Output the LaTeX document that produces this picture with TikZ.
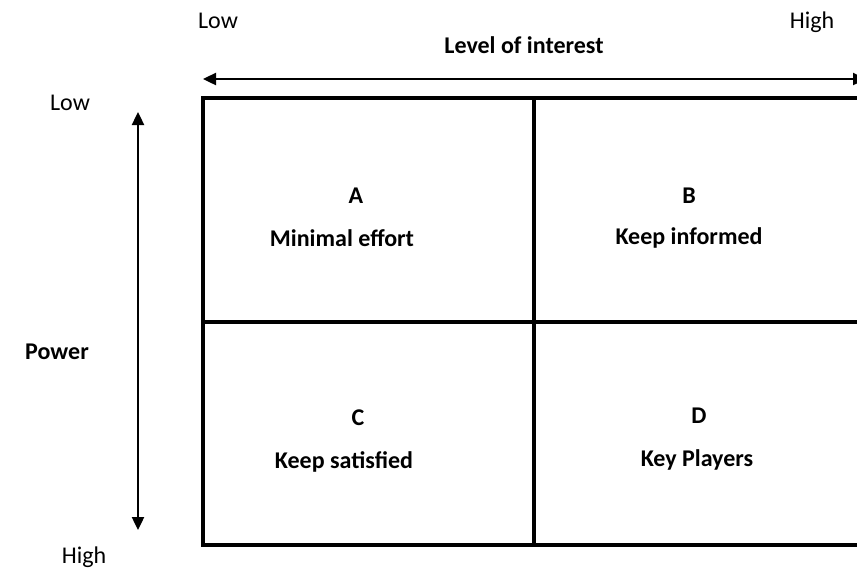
\documentclass[tikz,border=0pt]{standalone}
\usepackage{fontspec}
\setmainfont{Carlito}
\usetikzlibrary{arrows.meta}
\begin{document}
\begin{tikzpicture}[x=1pt,y=-1pt,
  grid/.style={line width=3.8pt},
  axis/.style={line width=2.4pt,{Triangle[length=13pt,width=12pt]}-{Triangle[length=13pt,width=12pt]}},
  lbl/.style={font=\fontsize{24}{28}\selectfont},
  blbl/.style={font=\fontsize{24}{28}\selectfont\bfseries}]
\useasboundingbox (0,0) rectangle (857,574);
\coordinate (tl) at (203,98);
\coordinate (br) at (880,545);
\draw[grid] (tl) rectangle (br);
\coordinate (vt) at (534,98);
\coordinate (vb) at (534,545);
\coordinate (hl) at (203,322);
\coordinate (hr) at (880,322);
\draw[grid] (vt) -- (vb);
\draw[grid] (hl) -- (hr);
\coordinate (ha) at (203,79);
\coordinate (hb) at (866,79);
\draw[axis] (ha) -- (hb);
\coordinate (va) at (138,112);
\coordinate (vb2) at (138,530);
\draw[axis] (va) -- (vb2);
\node[lbl] (lowx) at (218,21) {Low};
\node[lbl] (highx) at (812,22) {High};
\node[blbl] (loi) at (524,45) {Level of interest};
\node[lbl] (lowy) at (70,103) {Low};
\node[blbl] (pow) at (57,352) {Power};
\node[lbl] (highy) at (84,557) {High};
\node[blbl] (a) at (356,196) {A};
\node[blbl] (ta) at (342,238) {Minimal effort};
\node[blbl] (b) at (689,196) {B};
\node[blbl] (tb) at (689,238) {Keep informed};
\node[blbl] (c) at (358,418) {C};
\node[blbl] (tc) at (344,462) {Keep satisfied};
\node[blbl] (d) at (699,416) {D};
\node[blbl] (td) at (697,460) {Key Players};
\end{tikzpicture}
\end{document}
